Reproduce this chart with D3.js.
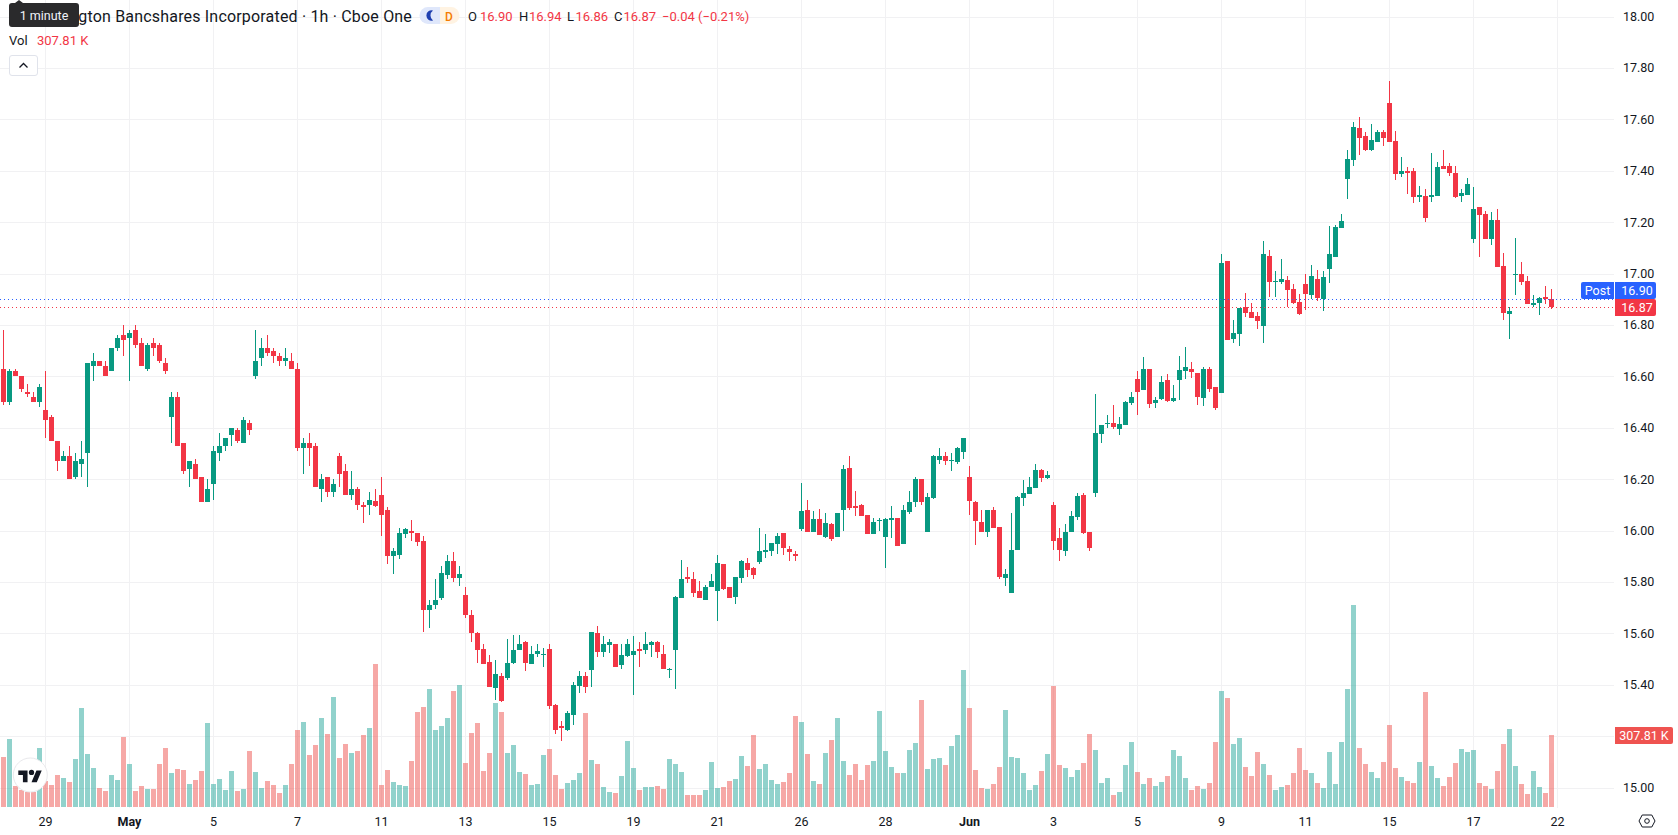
<!DOCTYPE html>
<html>
<head>
<meta charset="utf-8">
<title>Huntington Bancshares Incorporated · 1h · Cboe One</title>
<script src="https://cdn.jsdelivr.net/npm/d3@7/dist/d3.min.js"></script>
<style>
  html, body { margin: 0; padding: 0; background: #fff; overflow: hidden; }
  svg { display: block; font-family: Roboto, "Noto Sans", sans-serif; }
  text { fill: #131722; }
</style>
</head>
<body>
<svg id="chart" width="1678" height="835"></svg>
<script>
// Hourly session candles, oldest first.
const opens = [
16.63,16.50,16.62,16.60,16.54,16.52,16.50,16.47,16.44,16.35,
16.27,16.29,16.21,16.26,16.30,16.64,16.66,16.64,16.62,16.71,
16.76,16.75,16.78,16.73,16.63,16.73,16.72,16.65,16.44,16.52,
16.34,16.24,16.26,16.21,16.11,16.18,16.30,16.33,16.37,16.39,
16.34,16.42,16.60,16.67,16.71,16.70,16.68,16.66,16.66,16.63,
16.32,16.34,16.33,16.16,16.21,16.15,16.29,16.23,16.14,16.16,
16.10,16.10,16.115,16.14,16.08,15.90,15.905,15.985,16.00,15.99,
15.96,15.69,15.71,15.737,15.827,15.88,15.815,15.75,15.67,15.60,
15.54,15.49,15.387,15.434,15.426,15.484,15.535,15.566,15.48,15.52,
15.515,15.54,15.32,15.24,15.224,15.282,15.395,15.434,15.457,15.60,
15.527,15.554,15.558,15.477,15.512,15.515,15.539,15.535,15.554,15.566,
15.52,15.457,15.535,15.737,15.819,15.811,15.764,15.729,15.78,15.764,
15.87,15.78,15.741,15.815,15.873,15.854,15.877,15.916,15.92,15.947,
15.99,15.928,15.909,16.006,16.08,15.994,16.045,15.975,16.025,15.975,
16.081,16.243,16.095,16.099,16.06,15.986,16.037,15.975,16.041,16.049,
15.947,16.072,16.111,16.20,15.994,16.126,16.274,16.29,16.27,16.267,
16.305,16.208,16.111,16.033,15.994,16.08,16.014,15.815,15.757,15.924,
16.126,16.142,16.165,16.235,16.204,16.099,15.971,15.92,15.994,16.053,
16.138,15.994,16.146,16.376,16.415,16.419,16.395,16.411,16.497,16.59,
16.546,16.628,16.496,16.511,16.585,16.504,16.585,16.62,16.628,16.613,
16.515,16.628,16.558,16.535,17.048,16.745,16.764,16.87,16.85,16.834,
16.795,17.068,16.967,16.967,16.974,16.939,16.889,16.959,16.916,16.978,
16.90,17.017,17.063,17.176,17.367,17.441,17.565,17.534,17.48,17.511,
17.55,17.663,17.515,17.386,17.398,17.398,17.297,17.301,17.297,17.301,
17.418,17.418,17.39,17.301,17.305,17.133,17.258,17.231,17.133,17.207,
17.028,16.842,16.993,16.997,16.97,16.877,16.884,16.908,16.90];

const highs = [
16.78,16.63,16.63,16.60,16.57,16.54,16.57,16.62,16.45,16.35,
16.31,16.33,16.30,16.35,16.65,16.69,16.66,16.66,16.71,16.76,
16.80,16.78,16.80,16.75,16.73,16.75,16.73,16.67,16.54,16.54,
16.34,16.27,16.28,16.21,16.20,16.33,16.38,16.36,16.40,16.40,
16.44,16.43,16.78,16.75,16.76,16.71,16.69,16.71,16.69,16.65,
16.36,16.38,16.34,16.22,16.21,16.20,16.30,16.26,16.23,16.17,
16.11,16.15,16.16,16.21,16.09,15.93,16.01,16.01,16.04,15.99,
15.98,15.73,15.81,15.86,15.905,15.916,15.86,15.78,15.69,15.605,
15.558,15.515,15.496,15.445,15.578,15.593,15.593,15.57,15.55,15.558,
15.543,15.558,15.325,15.259,15.297,15.41,15.453,15.449,15.605,15.628,
15.589,15.578,15.558,15.558,15.578,15.589,15.566,15.605,15.57,15.57,
15.554,15.465,15.745,15.885,15.858,15.838,15.803,15.788,15.831,15.905,
15.87,15.78,15.819,15.885,15.893,15.858,16.01,15.986,15.951,15.99,
15.99,15.94,15.92,16.185,16.119,16.076,16.084,16.068,16.03,16.068,
16.255,16.29,16.154,16.103,16.06,16.049,16.049,16.049,16.095,16.049,
16.099,16.154,16.208,16.20,16.146,16.294,16.321,16.305,16.302,16.325,
16.36,16.251,16.115,16.08,16.08,16.092,16.014,15.85,16.068,16.134,
16.197,16.208,16.259,16.239,16.232,16.111,16.01,16.025,16.076,16.146,
16.146,15.994,16.532,16.411,16.45,16.489,16.442,16.504,16.539,16.62,
16.675,16.628,16.519,16.601,16.609,16.566,16.679,16.714,16.655,16.613,
16.636,16.636,16.558,17.076,17.048,16.819,16.865,16.924,16.885,16.85,
17.126,17.09,17.009,17.056,16.99,16.959,16.92,16.998,17.033,17.013,
17.009,17.184,17.188,17.231,17.48,17.589,17.608,17.55,17.581,17.558,
17.558,17.748,17.554,17.452,17.414,17.41,17.34,17.328,17.468,17.433,
17.48,17.429,17.418,17.328,17.371,17.336,17.258,17.242,17.238,17.25,
17.079,16.869,17.137,17.044,16.99,16.915,16.908,16.95,16.94];

const lows = [
16.49,16.49,16.60,16.54,16.52,16.50,16.48,16.36,16.35,16.23,
16.27,16.20,16.20,16.21,16.17,16.58,16.64,16.60,16.62,16.70,
16.68,16.58,16.71,16.64,16.62,16.68,16.65,16.61,16.34,16.33,
16.22,16.17,16.20,16.11,16.11,16.12,16.27,16.31,16.33,16.34,
16.34,16.37,16.59,16.64,16.68,16.65,16.64,16.64,16.63,16.31,
16.22,16.25,16.17,16.11,16.13,16.13,16.17,16.14,16.12,16.08,
16.03,16.06,16.09,15.98,15.87,15.83,15.89,15.97,15.96,15.94,
15.605,15.62,15.695,15.73,15.81,15.80,15.784,15.66,15.566,15.484,
15.48,15.39,15.34,15.333,15.418,15.48,15.535,15.453,15.48,15.507,
15.469,15.305,15.208,15.18,15.22,15.243,15.368,15.368,15.39,15.508,
15.508,15.523,15.469,15.461,15.508,15.36,15.469,15.519,15.508,15.504,
15.461,15.426,15.383,15.737,15.796,15.741,15.737,15.729,15.78,15.648,
15.768,15.737,15.714,15.796,15.819,15.811,15.87,15.893,15.90,15.909,
15.905,15.881,15.881,15.998,15.994,15.994,15.983,15.971,15.96,15.975,
16.0,16.08,16.056,16.056,15.986,15.986,15.998,15.854,15.971,15.94,
15.947,16.064,16.092,16.099,15.994,16.123,16.259,16.255,16.232,16.259,
16.278,16.06,15.944,15.994,15.975,16.01,15.811,15.784,15.757,15.924,
16.095,16.142,16.165,16.189,16.20,15.924,15.881,15.90,15.994,16.041,
15.986,15.92,16.13,16.34,16.40,16.395,16.372,16.411,16.489,16.45,
16.546,16.476,16.476,16.507,16.50,16.50,16.507,16.589,16.593,16.488,
16.484,16.539,16.469,16.535,16.741,16.73,16.718,16.83,16.826,16.784,
16.73,16.908,16.908,16.959,16.87,16.881,16.838,16.858,16.90,16.893,
16.853,16.962,17.063,17.176,17.289,17.417,17.46,17.476,17.476,17.511,
17.495,17.511,17.363,17.375,17.308,17.274,17.277,17.20,17.277,17.301,
17.406,17.379,17.293,17.277,17.305,17.118,17.063,17.133,17.11,17.024,
16.818,16.744,16.915,16.954,16.88,16.869,16.838,16.88,16.86];

const closes = [
16.50,16.62,16.60,16.55,16.53,16.50,16.56,16.43,16.35,16.27,
16.29,16.20,16.27,16.28,16.65,16.66,16.64,16.60,16.71,16.75,
16.74,16.77,16.72,16.64,16.72,16.71,16.66,16.62,16.52,16.33,
16.23,16.27,16.20,16.11,16.16,16.31,16.33,16.36,16.40,16.35,
16.43,16.39,16.66,16.71,16.69,16.68,16.66,16.67,16.63,16.32,
16.34,16.32,16.17,16.20,16.15,16.18,16.22,16.14,16.16,16.10,
16.09,16.12,16.095,16.06,15.90,15.92,15.99,16.005,15.99,15.955,
15.69,15.71,15.73,15.835,15.88,15.815,15.83,15.67,15.60,15.535,
15.48,15.39,15.44,15.336,15.484,15.535,15.558,15.484,15.52,15.53,
15.52,15.317,15.224,15.23,15.29,15.40,15.434,15.39,15.605,15.527,
15.558,15.566,15.469,15.515,15.558,15.531,15.531,15.558,15.566,15.527,
15.461,15.461,15.741,15.811,15.811,15.757,15.737,15.78,15.803,15.873,
15.772,15.737,15.819,15.881,15.846,15.827,15.92,15.924,15.951,15.979,
15.932,15.916,15.901,16.076,15.994,16.045,15.983,16.029,15.967,16.068,
16.239,16.088,16.088,16.056,15.986,16.033,16.041,16.045,16.049,15.94,
16.08,16.111,16.20,16.111,16.13,16.29,16.29,16.27,16.274,16.321,
16.36,16.115,16.037,15.994,16.08,16.01,15.819,15.831,15.924,16.13,
16.146,16.169,16.235,16.204,16.216,15.959,15.924,15.994,16.056,16.134,
15.99,15.932,16.379,16.411,16.419,16.403,16.415,16.50,16.52,16.539,
16.628,16.492,16.507,16.577,16.504,16.515,16.624,16.636,16.616,16.519,
16.628,16.55,16.476,17.04,16.741,16.768,16.865,16.846,16.826,16.815,
17.076,16.967,16.97,16.978,16.935,16.885,16.842,16.92,16.99,16.904,
16.986,17.075,17.18,17.203,17.445,17.569,17.526,17.48,17.519,17.55,
17.526,17.511,17.386,17.398,17.39,17.297,17.305,17.215,17.305,17.414,
17.406,17.39,17.297,17.312,17.347,17.25,17.227,17.133,17.207,17.024,
16.845,16.853,16.997,16.966,16.88,16.884,16.904,16.90,16.87];

// Traded volume per candle, in thousands of shares.
const volumes = [
212.3,289.3,88.4,72.7,64.1,64.1,250.8,109.7,92.6,135.4,
122.6,105.5,203.8,421.8,225.2,165.3,79.8,67.0,135.4,114.0,
297.8,182.4,67.0,88.4,75.5,75.5,182.4,250.8,143.9,161.0,
156.8,96.9,114.0,152.5,357.7,96.9,118.3,71.3,152.5,67.0,
75.5,238.0,148.2,79.8,109.7,92.6,58.4,92.6,182.4,327.8,
362.0,220.9,263.6,379.1,310.7,468.8,208.1,267.9,229.4,238.0,
306.4,336.3,609.9,92.6,156.8,105.5,92.6,88.4,195.2,404.7,
426.1,503.0,327.8,344.9,379.1,494.5,520.1,186.7,314.9,357.7,
152.5,229.4,443.2,404.7,229.4,263.6,148.2,139.7,92.6,96.9,
220.9,246.5,135.4,75.5,101.2,114.0,143.9,400.4,199.5,182.4,
84.1,62.7,58.4,131.1,280.7,165.3,71.3,84.1,84.1,88.4,
75.5,203.8,182.4,148.2,49.9,49.9,49.9,71.3,191.0,79.8,
84.1,109.7,118.3,216.6,173.9,306.4,161.0,182.4,114.0,96.9,
105.5,143.9,387.6,362.0,225.2,109.7,96.9,229.4,285.0,379.1,
195.2,135.4,182.4,114.0,178.1,195.2,409.0,238.0,169.6,143.9,
143.9,242.3,272.2,456.0,161.0,203.8,208.1,178.1,259.4,306.4,
584.3,421.8,156.8,79.8,75.5,96.9,169.6,413.3,212.3,208.1,
143.9,71.3,92.6,152.5,225.2,515.9,178.1,165.3,126.8,156.8,
186.7,310.7,242.3,101.2,122.6,49.9,62.7,179.6,277.9,149.6,
98.3,124.0,89.8,106.9,132.5,243.7,218.0,124.0,72.7,89.8,
77.0,102.6,277.9,495.9,466.0,269.3,295.0,171.0,132.5,235.1,
183.8,136.8,72.7,85.5,94.1,145.4,252.2,158.2,145.4,102.6,
81.2,235.1,98.3,277.9,504.5,863.6,252.2,183.8,149.6,124.0,
192.4,350.6,166.7,128.3,111.2,102.6,192.4,491.6,175.3,124.0,
89.8,128.3,188.1,248.0,235.1,243.7,102.6,89.8,77.0,153.9,
269.3,333.5,175.3,98.3,55.6,153.9,85.5,59.9,307.81];

const timeLabels = ["29","May","5","7","11","13","15","19","21","26","28","Jun","3","5","9","11","15","17","22"];
const timeIndexes = [7,21,35,49,63,77,91,105,119,133,147,161,175,189,203,217,231,245,259];
const gridPrices = [15,15.2,15.4,15.6,15.8,16,16.2,16.4,16.6,16.8,17,17.2,17.4,17.6,17.8,18];
// 15.20 sits underneath the volume tag, so the scale leaves it unlabelled.
const priceLabels = [15,15.4,15.6,15.8,16,16.2,16.4,16.6,16.8,17,17.2,17.4,17.6,17.8,18];
const lastClose = 16.87;
const postPrice = 16.90;

const UP = "#089981", DOWN = "#f23645";
const VOL_UP = "#26a69a", VOL_DOWN = "#ef5350";
const GRID = "#f1f1f3";
const BLUE = "#2962ff";
const plotRight = 1614, plotBottom = 808;

const candles = d3.range(closes.length).map(i => ({
  i, o: opens[i], h: highs[i], l: lows[i], c: closes[i], v: volumes[i]
}));
const rising = d => d.c >= d.o;

const x = d3.scaleLinear().domain([0, 258]).range([3.5, 1551.5]);
const y = d3.scaleLinear().domain([15, 18]).range([787.5, 16.5]);
const yVol = d3.scaleLinear().domain([0, d3.max(volumes)]).range([807, 605]);

const svg = d3.select("#chart");

// Grid layer
const grid = svg.append("g").attr("shape-rendering", "crispEdges");
grid.selectAll(".gv").data(timeIndexes).join("rect").attr("class", "gv")
  .attr("x", d => Math.floor(x(d))).attr("y", 0)
  .attr("width", 1).attr("height", plotBottom).attr("fill", GRID);
grid.selectAll(".gh").data(gridPrices).join("rect").attr("class", "gh")
  .attr("x", 0).attr("y", d => Math.round(y(d)))
  .attr("width", plotRight).attr("height", 1).attr("fill", GRID);

// Volume histogram
svg.append("g").attr("shape-rendering", "crispEdges").attr("opacity", 0.5)
  .selectAll("rect").data(candles).join("rect")
  .attr("x", d => x(d.i) - 2.5).attr("width", 5)
  .attr("y", d => Math.round(yVol(d.v)))
  .attr("height", d => 807 - Math.round(yVol(d.v)))
  .attr("fill", d => rising(d) ? VOL_UP : VOL_DOWN);

// Candles: a one-pixel wick and a five-pixel body
const candleG = svg.append("g").attr("shape-rendering", "crispEdges")
  .selectAll("g").data(candles).join("g")
  .attr("fill", d => rising(d) ? UP : DOWN);
candleG.append("rect")
  .attr("x", d => x(d.i) - 0.5).attr("width", 1)
  .attr("y", d => Math.round(y(d.h)))
  .attr("height", d => Math.max(1, Math.round(y(d.l)) - Math.round(y(d.h))));
candleG.append("rect")
  .attr("x", d => x(d.i) - 2.5).attr("width", 5)
  .attr("y", d => Math.round(y(Math.max(d.o, d.c))))
  .attr("height", d => Math.max(1, Math.round(y(Math.min(d.o, d.c))) - Math.round(y(Math.max(d.o, d.c)))));

// Dotted last-price lines
[[postPrice, BLUE], [lastClose, DOWN]].forEach(([p, col]) => {
  svg.append("line")
    .attr("x1", 0).attr("x2", plotRight)
    .attr("y1", Math.round(y(p)) + 0.5).attr("y2", Math.round(y(p)) + 0.5)
    .attr("stroke", col).attr("stroke-width", 1).attr("stroke-dasharray", "1 3");
});

// Axes
const priceAxis = d3.axisRight(y).tickValues(priceLabels).tickSize(0).tickPadding(0).tickFormat(d3.format(".2f"));
const gY = svg.append("g").attr("transform", "translate(1623,0)").call(priceAxis);
gY.select(".domain").remove();
gY.selectAll("text").attr("font-size", 12.5).attr("font-family", "Roboto, sans-serif").style("fill", "#131722");

const timeAxis = d3.axisBottom(x).tickValues(timeIndexes).tickSize(0).tickPadding(0)
  .tickFormat((d, k) => timeLabels[k]);
const gX = svg.append("g").attr("transform", "translate(-0.5,817)").call(timeAxis);
gX.select(".domain").remove();
gX.selectAll("text").attr("font-size", 12.5).attr("font-family", "Roboto, sans-serif")
  .style("fill", "#131722")
  .attr("font-weight", (d, k) => /[A-Z]/.test(timeLabels[k]) ? 700 : 400);

// Price and volume tags on the right-hand scale
function tag(x0, y0, w, h, col, label, radii, cx) {
  const [rl, rr] = radii;
  svg.append("path").attr("fill", col)
    .attr("d", `M${x0 + rl},${y0}H${x0 + w - rr}Q${x0 + w},${y0} ${x0 + w},${y0 + rr}V${y0 + h - rr}Q${x0 + w},${y0 + h} ${x0 + w - rr},${y0 + h}H${x0 + rl}Q${x0},${y0 + h} ${x0},${y0 + h - rl}V${y0 + rl}Q${x0},${y0} ${x0 + rl},${y0}Z`);
  svg.append("text").attr("x", cx).attr("y", y0 + h / 2 + 4.4)
    .attr("text-anchor", "middle").attr("font-size", 12.5).style("fill", "#fff").text(label);
}
tag(1581, 282, 33, 17, BLUE, "Post", [2, 0], 1597.5);
tag(1615, 282, 41, 17, BLUE, d3.format(".2f")(postPrice), [0, 2], 1637);
tag(1615, 299, 41, 17, DOWN, d3.format(".2f")(lastClose), [0, 2], 1637);
tag(1615, 727, 58, 17, VOL_DOWN, d3.format(".2f")(volumes[258]) + " K", [0, 2], 1644);

// Legend rows
const legend = svg.append("g");
legend.append("text").attr("x", 412).attr("y", 21.5).attr("text-anchor", "end")
  .attr("font-size", 16).attr("letter-spacing", 0.18)
  .text("Huntington Bancshares Incorporated · 1h · Cboe One");
const ohlcParts = [
  [468, "O", "#131722"], [480, "16.90", DOWN], [519, "H", "#131722"], [529, "16.94", DOWN],
  [567, "L", "#131722"], [575.5, "16.86", DOWN], [614, "C", "#131722"], [623.5, "16.87", DOWN],
  [662, "−0.04 (−0.21%)", DOWN]
];
legend.selectAll(".ohlc").data(ohlcParts).join("text").attr("class", "ohlc")
  .attr("x", d => d[0]).attr("y", 21).attr("font-size", 13)
  .style("fill", d => d[2]).text(d => d[1]);
legend.append("text").attr("x", 9).attr("y", 45).attr("font-size", 13).text("Vol");
legend.append("text").attr("x", 37).attr("y", 45).attr("font-size", 13).style("fill", DOWN).text("307.81 K");

// Session badges next to the title
svg.append("path").attr("d", "M428,7H440V24H428A8.5,8.5 0 0 1 428,7Z").attr("fill", "#dfe7fb");
svg.append("path").attr("d", "M440,7H451A8.5,8.5 0 0 1 451,24H440Z").attr("fill", "#fff3e2");
svg.append("path").attr("fill", "#1e3fb0")
  .attr("d", "M433,10.5A5.2,5.2 0 1 0 433,20.5A6.2,6.2 0 0 1 433,10.5Z");
svg.append("text").attr("x", 449).attr("y", 20.5).attr("text-anchor", "middle").attr("font-size", 12)
  .attr("font-weight", 500).style("fill", "#f57c00").text("D");

// Collapse button
svg.append("rect").attr("x", 9.5).attr("y", 55.5).attr("width", 28).attr("height", 20).attr("rx", 2.5)
  .attr("fill", "#fff").attr("stroke", "#e0e3eb");
svg.append("path").attr("d", "M19.5,67.5L23.5,63.5L27.5,67.5").attr("fill", "none")
  .attr("stroke", "#131722").attr("stroke-width", 1.3);

// Hover tip above the title
svg.append("path").attr("fill", "#2a2a2c")
  .attr("d", "M12,3H15L19,0L23,3H76Q79,3 79,6V24Q79,27 76,27H12Q9,27 9,24V6Q9,3 12,3Z");
svg.append("text").attr("x", 44).attr("y", 20).attr("text-anchor", "middle").attr("font-size", 12.5)
  .style("fill", "#f0f3fa").text("1 minute");

// Vendor mark, lower left
svg.append("circle").attr("cx", 30.3).attr("cy", 775).attr("r", 17)
  .attr("fill", "#fff").attr("stroke", "#e9e9ec").attr("stroke-width", 1);
const logo = svg.append("g").attr("transform", "translate(18.3,767.8) scale(0.66)").attr("fill", "#131722");
logo.append("path").attr("d", "M14 22H7V11H0V4h14v18zM28 22h-8l7.5-18h8L28 22z");
logo.append("circle").attr("cx", 20).attr("cy", 7).attr("r", 4);

// Scale settings icon
const gear = svg.append("g").attr("fill", "none").attr("stroke", "#131722").attr("stroke-width", 1);
gear.append("path").attr("d", "M1642.2,815H1651.8L1655,821L1651.8,827H1642.2L1639,821Z");
gear.append("circle").attr("cx", 1647).attr("cy", 821).attr("r", 2.3);
</script>
</body>
</html>
